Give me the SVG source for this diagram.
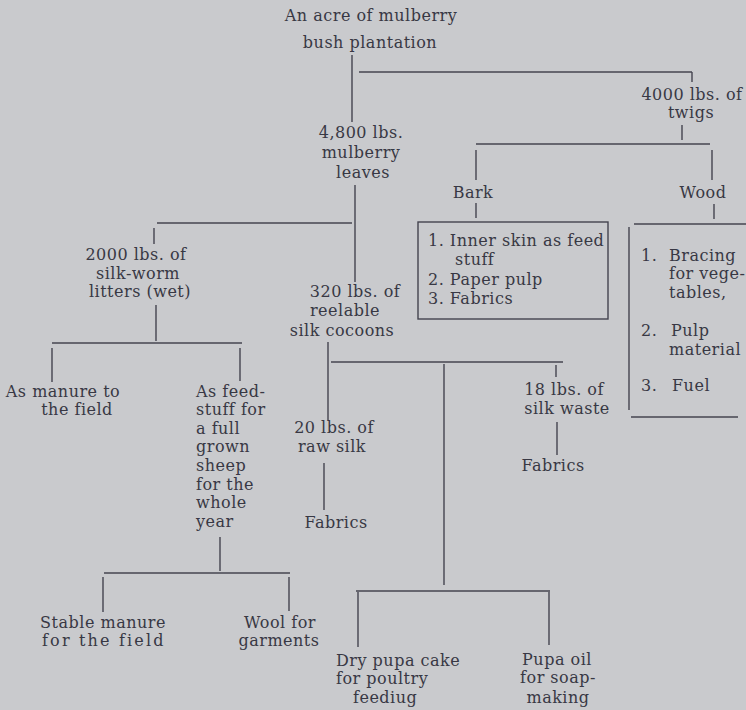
<svg xmlns="http://www.w3.org/2000/svg" width="746" height="710" viewBox="0 0 746 710">
<style>
text{font-family:"DejaVu Serif","Liberation Serif",serif;font-size:16px;letter-spacing:0.5px;fill:#383844}
.m{text-anchor:middle}
.c line,.c rect{stroke:#44444f;stroke-width:1.4;fill:none}
</style>
<rect width="746" height="710" fill="#c9cacd"/>
<g id="connectors" class="c">
<line x1="352" y1="55" x2="352" y2="122"/>
<line x1="359" y1="72" x2="692" y2="72"/>
<line x1="692" y1="72" x2="692" y2="82"/>
<line x1="682" y1="125" x2="682" y2="140"/>
<line x1="476" y1="144" x2="710" y2="144"/>
<line x1="476" y1="150" x2="476" y2="180"/>
<line x1="712" y1="150" x2="712" y2="180"/>
<line x1="476" y1="203" x2="476" y2="218"/>
<line x1="714" y1="204" x2="714" y2="219"/>
<line x1="355" y1="185" x2="355" y2="282"/>
<line x1="157" y1="223" x2="352" y2="223"/>
<line x1="154" y1="228" x2="154" y2="244"/>
<line x1="156" y1="305" x2="156" y2="341"/>
<line x1="52" y1="343" x2="242" y2="343"/>
<line x1="52" y1="348" x2="52" y2="382"/>
<line x1="240" y1="348" x2="240" y2="381"/>
<line x1="328" y1="342" x2="328" y2="420"/>
<line x1="331" y1="362" x2="563" y2="362"/>
<line x1="444" y1="364" x2="444" y2="585"/>
<line x1="556" y1="365" x2="556" y2="377"/>
<line x1="557" y1="422" x2="557" y2="455"/>
<line x1="324" y1="463" x2="324" y2="510"/>
<line x1="220" y1="537" x2="220" y2="571"/>
<line x1="104" y1="573" x2="290" y2="573"/>
<line x1="103" y1="577" x2="103" y2="612"/>
<line x1="289" y1="577" x2="289" y2="611"/>
<line x1="356" y1="591" x2="550" y2="591"/>
<line x1="358" y1="592" x2="358" y2="647"/>
<line x1="549" y1="592" x2="549" y2="645"/>
</g>
<g id="root"><text class="m" x="371" y="21">An acre of mulberry</text><text class="m" x="370" y="48">bush plantation</text></g>
<g id="twigs"><text class="m" x="692" y="100">4000 lbs. of</text><text class="m" x="691" y="118">twigs</text></g>
<g id="leaves"><text class="m" x="361" y="138">4,800 lbs.</text><text class="m" x="361" y="158">mulberry</text><text class="m" x="363" y="178">leaves</text></g>
<g id="bark"><text class="m" x="473" y="198">Bark</text></g>
<g id="wood"><text class="m" x="703" y="198">Wood</text></g>
<g id="bark-uses" class="c">
<rect x="418" y="222" width="190" height="97"/>
<text x="428" y="246">1. Inner skin as feed</text>
<text x="455" y="265">stuff</text>
<text x="428" y="285">2. Paper pulp</text>
<text x="428" y="304">3. Fabrics</text>
</g>
<g id="wood-uses" class="c">
<line x1="634" y1="224" x2="746" y2="224"/>
<line x1="629" y1="227" x2="629" y2="410"/>
<line x1="631" y1="417" x2="738" y2="417"/>
<text x="641" y="261">1.</text><text x="669" y="261">Bracing</text>
<text x="669" y="279">for vege-</text>
<text x="669" y="298">tables,</text>
<text x="641" y="336">2.</text><text x="671" y="336">Pulp</text>
<text x="669" y="355">material</text>
<text x="641" y="391">3.</text><text x="672" y="391">Fuel</text>
</g>
<g id="litters"><text class="m" x="136" y="260">2000 lbs. of</text><text class="m" x="138" y="279">silk-worm</text><text class="m" x="140" y="297">litters (wet)</text></g>
<g id="cocoons"><text class="m" x="355" y="297">320 lbs. of</text><text class="m" x="345" y="316">reelable</text><text class="m" x="342" y="336">silk cocoons</text></g>
<g id="manure"><text class="m" x="63" y="397">As manure to</text><text class="m" x="77" y="415">the field</text></g>
<g id="feedstuff">
<text x="196" y="397">As feed-</text>
<text x="196" y="415">stuff for</text>
<text x="196" y="434">a full</text>
<text x="196" y="452">grown</text>
<text x="196" y="471">sheep</text>
<text x="196" y="490">for the</text>
<text x="196" y="508">whole</text>
<text x="196" y="527">year</text>
</g>
<g id="rawsilk"><text class="m" x="334" y="433">20 lbs. of</text><text class="m" x="332" y="452">raw silk</text></g>
<g id="fabrics1"><text class="m" x="336" y="528">Fabrics</text></g>
<g id="silkwaste"><text class="m" x="564" y="395">18 lbs. of</text><text class="m" x="567" y="414">silk waste</text></g>
<g id="fabrics2"><text class="m" x="553" y="471">Fabrics</text></g>
<g id="stable"><text class="m" x="103" y="628">Stable manure</text><text x="42" y="646" textLength="122" lengthAdjust="spacing">for the field</text></g>
<g id="wool"><text class="m" x="280" y="628">Wool for</text><text class="m" x="279" y="646">garments</text></g>
<g id="pupacake"><text x="336" y="666">Dry pupa cake</text><text x="336" y="684">for poultry</text><text x="353" y="703">feediug</text></g>
<g id="pupaoil"><text class="m" x="557" y="665">Pupa oil</text><text class="m" x="558" y="683">for soap-</text><text class="m" x="558" y="703">making</text></g>
</svg>
